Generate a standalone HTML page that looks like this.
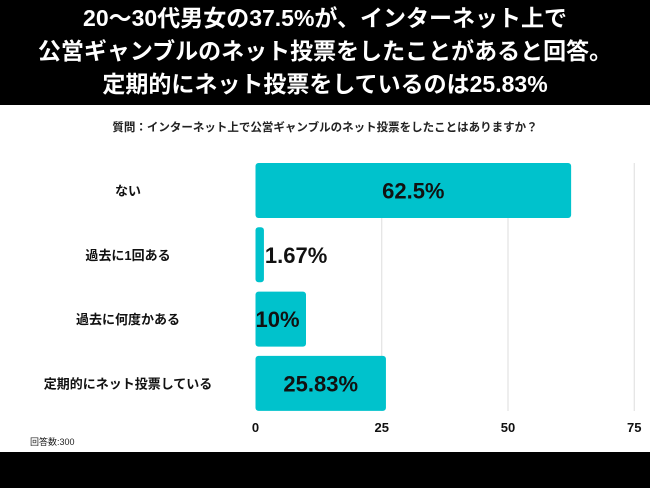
<!DOCTYPE html>
<html><head><meta charset="utf-8"><style>
body{margin:0;width:650px;height:488px;overflow:hidden;background:#fff;font-family:"Liberation Sans","Noto Sans CJK JP",sans-serif;}
#hdr{position:absolute;left:0;top:0;width:650px;height:105px;background:#000;color:#fff;text-align:center;font-weight:bold;font-size:23px;line-height:33px;padding-top:2px;box-sizing:border-box}
#ftr{position:absolute;left:0;top:452px;width:650px;height:36px;background:#000}
svg{position:absolute;left:0;top:0}
</style></head><body>
<div id="hdr">20〜30代男女の37.5%が、インターネット上で<br>公営ギャンブルのネット投票をしたことがあると回答。<br>定期的にネット投票をしているのは25.83%</div>
<div id="ftr"></div>
<svg id="c" width="650" height="488">
<text x="325" y="131" text-anchor="middle" font-size="11.5" font-weight="bold" fill="#222">質問：インターネット上で公営ギャンブルのネット投票をしたことはありますか？</text>
<text x="30" y="445" font-size="9" fill="#222">回答数:300</text>
</svg>
<script>
const categories=["ない","過去に1回ある","過去に何度かある","定期的にネット投票している"];
const values=[62.5,1.67,10,25.83];
const valueLabels=["62.5%","1.67%","10%","25.83%"];
const ticks=[0,25,50,75];
const svg=document.getElementById('c');
const NS="http://www.w3.org/2000/svg";
const x=v=>255.5+v*5.05;
const top0=163,pitch=64.3,bh=55;
function mk(t,a){const e=document.createElementNS(NS,t);for(const k in a)e.setAttribute(k,a[k]);svg.appendChild(e);return e;}
ticks.forEach(t=>{
 if(t>0){const l=mk('line',{x1:x(t),x2:x(t),y1:top0,y2:411,stroke:'#ddd','stroke-width':1});
 
 }
 const tx=mk('text',{x:x(t),y:432,'text-anchor':'middle','font-size':13,'font-weight':'bold',fill:'#111'});tx.textContent=t;
 
 
});
categories.forEach((c,i)=>{
 const y=top0+i*pitch;
 const r=mk('rect',{x:x(0),y:y,width:x(values[i])-x(0),height:bh,rx:3,fill:'#00c2cc'});
 
 
 const lb=mk('text',{x:128,y:y+bh/2+5,'text-anchor':'middle','font-size':13,'font-weight':'bold',fill:'#111'});lb.textContent=c;
 
 
 const w=x(values[i])-x(0);
 const inside=w>60;
 const vx=inside?x(0)+w/2:x(values[i])+1;
 const vt=mk('text',{x:vx,y:y+bh/2+8,'text-anchor':inside?'middle':'start','font-size':22,'font-weight':'bold',fill:'#111'});vt.textContent=valueLabels[i];
 if(!inside&&w>20)vt.setAttribute('x',x(0));
 
 
});
</script>
</body></html>
